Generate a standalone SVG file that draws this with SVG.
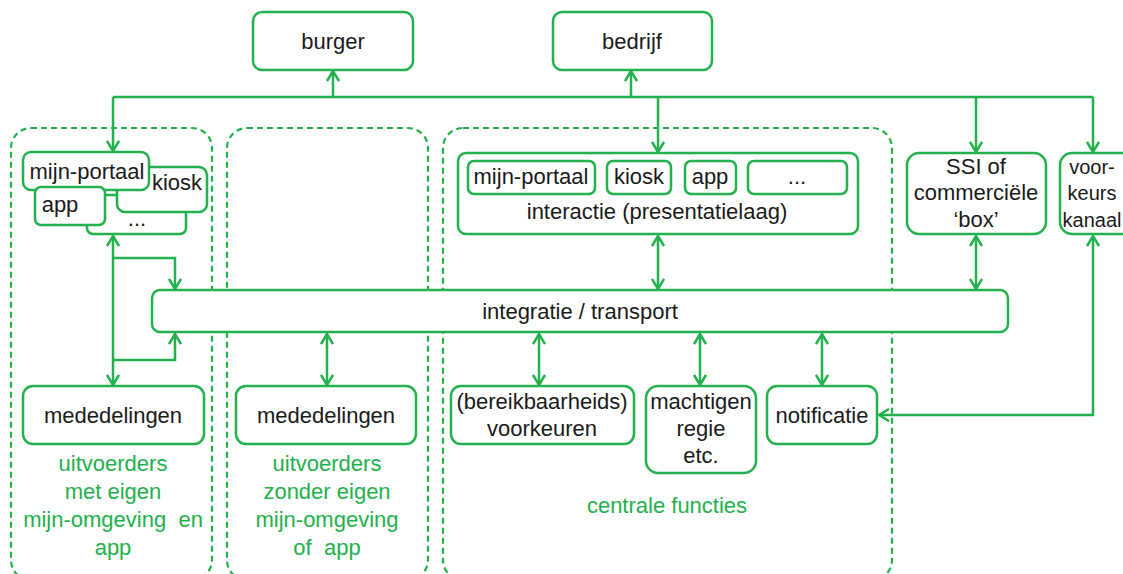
<svg xmlns="http://www.w3.org/2000/svg" width="1123" height="574" viewBox="0 0 1123 574">
<style>
.box{fill:#fff;stroke:#22b14c;stroke-width:2.5}
.grp{fill:none;stroke:#22b14c;stroke-width:2.2;stroke-dasharray:6 4}
.t{font-family:"Liberation Sans",Arial,sans-serif;font-size:22px;fill:#1a1a1a;text-anchor:middle}
.s{font-size:20px}
.g{font-family:"Liberation Sans",Arial,sans-serif;font-size:22px;fill:#22b14c;text-anchor:middle;white-space:pre}
.c{fill:none;stroke:#22b14c;stroke-width:2.5}
</style>
<defs>
<marker id="ah" viewBox="0 0 12 14" refX="11" refY="7" markerWidth="12" markerHeight="14" markerUnits="userSpaceOnUse" orient="auto-start-reverse">
<path d="M1,1 L11,7 L1,13" fill="none" stroke="#22b14c" stroke-width="2.5"/>
</marker>
</defs>
<rect width="1123" height="574" fill="#fff"/>

<g id="group-eigen"><rect class="grp" x="11" y="128" width="201" height="452" rx="20"/>
<text class="g" x="113" y="471">uitvoerders</text><text class="g" x="113" y="499">met eigen</text><text class="g" x="113" y="527" xml:space="preserve">mijn-omgeving  en</text><text class="g" x="113" y="555">app</text></g>
<g id="group-zonder"><rect class="grp" x="227" y="128" width="201" height="452" rx="20"/>
<text class="g" x="327" y="471">uitvoerders</text><text class="g" x="327" y="499">zonder eigen</text><text class="g" x="327" y="527">mijn-omgeving</text><text class="g" x="327" y="555" xml:space="preserve">of  app</text></g>
<g id="group-centraal"><rect class="grp" x="443" y="128" width="449" height="452" rx="20"/>
<text class="g" x="667" y="513">centrale functies</text></g>

<g id="connectors">
<path class="c" d="M113,97 H1093"/>
<path class="c" d="M333,97 V71" marker-end="url(#ah)"/>
<path class="c" d="M631,97 V71" marker-end="url(#ah)"/>
<path class="c" d="M113,97 V151" marker-end="url(#ah)"/>
<path class="c" d="M658,97 V152" marker-end="url(#ah)"/>
<path class="c" d="M976,97 V152" marker-end="url(#ah)"/>
<path class="c" d="M1093,97 V152" marker-end="url(#ah)"/>
<path class="c" d="M658,236 V289" marker-start="url(#ah)" marker-end="url(#ah)"/>
<path class="c" d="M976,236 V289" marker-start="url(#ah)" marker-end="url(#ah)"/>
<path class="c" d="M113,236 V385" marker-start="url(#ah)" marker-end="url(#ah)"/>
<path class="c" d="M113,258 H175 V289" marker-end="url(#ah)"/>
<path class="c" d="M113,360 H175 V334" marker-end="url(#ah)"/>
<path class="c" d="M327,334 V385" marker-start="url(#ah)" marker-end="url(#ah)"/>
<path class="c" d="M539,334 V385" marker-start="url(#ah)" marker-end="url(#ah)"/>
<path class="c" d="M700,334 V385" marker-start="url(#ah)" marker-end="url(#ah)"/>
<path class="c" d="M822,334 V385" marker-start="url(#ah)" marker-end="url(#ah)"/>
<path class="c" d="M1093,236 V415 H879" marker-start="url(#ah)" marker-end="url(#ah)"/>
</g>

<g id="burger"><rect class="box" x="253" y="12" width="160" height="58" rx="9"/><text class="t" x="333" y="49">burger</text></g>
<g id="bedrijf"><rect class="box" x="553" y="12" width="159" height="58" rx="9"/><text class="t" x="632" y="49">bedrijf</text></g>

<g id="eigen-kanalen">
<rect class="box" x="87" y="195" width="99" height="39" rx="6"/><text class="t" x="137" y="226">...</text>
<rect class="box" x="117" y="167" width="90" height="45" rx="8"/><text class="t" x="177" y="190">kiosk</text>
<rect class="box" x="23" y="152" width="126" height="38" rx="8"/><text class="t" x="87" y="179">mijn-portaal</text>
<rect class="box" x="35" y="187" width="70" height="38" rx="6"/><text class="t" x="60" y="212">app</text>
</g>

<g id="interactie">
<rect class="box" x="458" y="153" width="400" height="81" rx="8"/>
<rect class="box" x="468" y="161" width="127" height="33" rx="6"/><text class="t" x="531" y="184">mijn-portaal</text>
<rect class="box" x="607" y="161" width="64" height="33" rx="6"/><text class="t" x="639" y="184">kiosk</text>
<rect class="box" x="685" y="161" width="51" height="33" rx="6"/><text class="t" x="710" y="184">app</text>
<rect class="box" x="748" y="161" width="99" height="33" rx="6"/><text class="t" x="797" y="184">...</text>
<text class="t" x="657" y="219">interactie (presentatielaag)</text>
</g>

<g id="ssi"><rect class="box" x="907" y="153" width="139" height="81" rx="12"/>
<text class="t" x="976" y="174">SSI of</text><text class="t" x="976" y="200">commerciële</text><text class="t" x="976" y="227">‘box’</text></g>
<g id="voorkeurskanaal"><rect class="box" x="1060" y="153" width="80" height="81" rx="12"/>
<text class="t s" x="1092" y="174">voor-</text><text class="t s" x="1092" y="200">keurs</text><text class="t s" x="1092" y="227">kanaal</text></g>

<g id="integratie"><rect class="box" x="152" y="290" width="856" height="42" rx="8"/><text class="t" x="580" y="319">integratie / transport</text></g>

<g id="mededelingen-1"><rect class="box" x="23" y="386" width="181" height="58" rx="10"/><text class="t" x="113" y="423">mededelingen</text></g>
<g id="mededelingen-2"><rect class="box" x="236" y="386" width="180" height="58" rx="10"/><text class="t" x="326" y="423">mededelingen</text></g>
<g id="voorkeuren"><rect class="box" x="451" y="386" width="183" height="58" rx="10"/><text class="t" x="542" y="409">(bereikbaarheids)</text><text class="t" x="542" y="436">voorkeuren</text></g>
<g id="machtigen"><rect class="box" x="646" y="386" width="110" height="87" rx="12"/><text class="t" x="701" y="409">machtigen</text><text class="t" x="701" y="436">regie</text><text class="t" x="701" y="463">etc.</text></g>
<g id="notificatie"><rect class="box" x="767" y="386" width="110" height="58" rx="10"/><text class="t" x="822" y="423">notificatie</text></g>
</svg>
